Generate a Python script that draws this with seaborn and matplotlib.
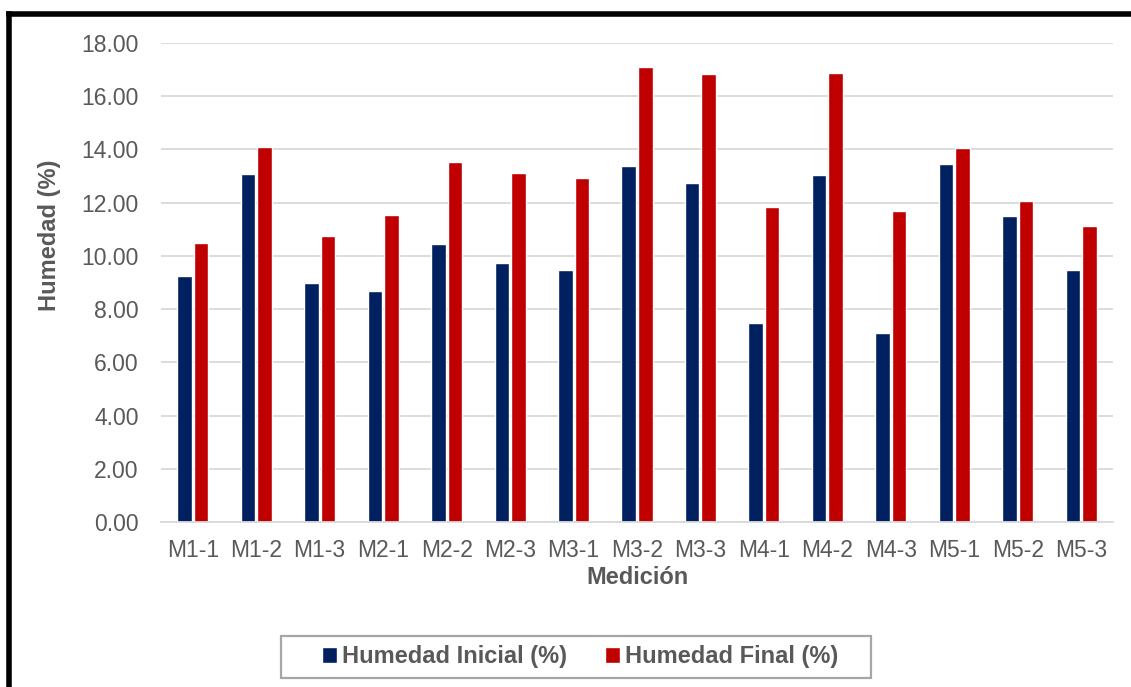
import pandas as pd
import seaborn as sns
import matplotlib.pyplot as plt
from matplotlib.lines import Line2D
from matplotlib.patches import Patch, Rectangle

# datos
mediciones = ['M1-1', 'M1-2', 'M1-3', 'M2-1', 'M2-2', 'M2-3', 'M3-1', 'M3-2',
              'M3-3', 'M4-1', 'M4-2', 'M4-3', 'M5-1', 'M5-2', 'M5-3']
hum_inicial = [9.24, 13.08, 8.99, 8.69, 10.45, 9.73, 9.46, 13.37,
               12.74, 7.49, 13.03, 7.10, 13.44, 11.50, 9.47]
hum_final = [10.48, 14.08, 10.75, 11.52, 13.52, 13.11, 12.93, 17.09,
             16.84, 11.84, 16.87, 11.69, 14.04, 12.08, 11.11]
series = ['Humedad Inicial (%)', 'Humedad Final (%)']
colores = ['#002060', '#C00000']
yticks = [0, 2, 4, 6, 8, 10, 12, 14, 16, 18]

df = pd.DataFrame({
    'Medición': mediciones * 2,
    'Humedad': hum_inicial + hum_final,
    'Serie': [series[0]] * len(mediciones) + [series[1]] * len(mediciones),
})

sns.set_style('white')
plt.rcParams['font.family'] = ['Liberation Sans', 'DejaVu Sans']
gris = '#595959'

W, H = 1131, 687
fig = plt.figure(figsize=(W / 100, H / 100), dpi=100)
ax = fig.add_axes([161 / W, 1 - 522 / H, (1113 - 161) / W, (522 - 43) / H])

sns.barplot(data=df, x='Medición', y='Humedad', hue='Serie', palette=colores,
            width=0.52, gap=0.12, ax=ax, legend=False, saturation=1)

ax.set_ylim(0, 18)
ax.set_xlim(-0.5, len(mediciones) - 0.5)
ax.set_yticks(yticks)
ax.set_yticklabels(['%.2f' % v for v in yticks])
ax.yaxis.grid(True, color='#D9D9D9', linewidth=1.3)
ax.set_axisbelow(True)
for s in ['left', 'right', 'top']:
    ax.spines[s].set_visible(False)
ax.spines['bottom'].set_color('#D9D9D9')
ax.spines['bottom'].set_linewidth(1.3)
ax.tick_params(axis='y', length=0, pad=16, labelsize=16.5, labelcolor=gris)
ax.tick_params(axis='x', which='major', length=0, pad=12, labelsize=16.5, labelcolor=gris)
ax.set_xticks([i - 0.5 for i in range(len(mediciones) + 1)], minor=True)
ax.tick_params(axis='x', which='minor', length=6, width=1.3, color='#D9D9D9')
ax.set_xlabel('')
ax.set_ylabel('')

fig.text(637 / W, 1 - 578 / H, 'Medición', ha='center', va='center',
         fontsize=17, fontweight='bold', color=gris)
fig.text(50 / W, 1 - 235 / H, 'Humedad (%)', ha='center', va='center',
         rotation=90, fontsize=17, fontweight='bold', color=gris)

# leyenda con marco propio
handles = [Patch(facecolor=c, label=s) for c, s in zip(colores, series)]
leg = fig.legend(handles=handles, loc='center', bbox_to_anchor=(580 / W, 1 - 657 / H),
                 ncol=2, frameon=False, handlelength=0.65, handleheight=0.65,
                 handletextpad=0.2, columnspacing=1.6,
                 prop={'size': 17, 'weight': 'bold'})
for t in leg.get_texts():
    t.set_color(gris)
fig.add_artist(Rectangle((281 / W, 1 - 678 / H), (871 - 281) / W, (678 - 636) / H,
                         transform=fig.transFigure, fill=False,
                         edgecolor='#A6A6A6', linewidth=1.6))

# marco negro
fig.add_artist(Line2D([8.5 / W, 8.5 / W], [0, 1 - 14 / H], transform=fig.transFigure,
                      color='black', linewidth=4, solid_capstyle='projecting'))
fig.add_artist(Line2D([8.5 / W, 1], [1 - 14 / H, 1 - 14 / H], transform=fig.transFigure,
                      color='black', linewidth=4, solid_capstyle='projecting'))

plt.savefig('out.png', dpi=100)
